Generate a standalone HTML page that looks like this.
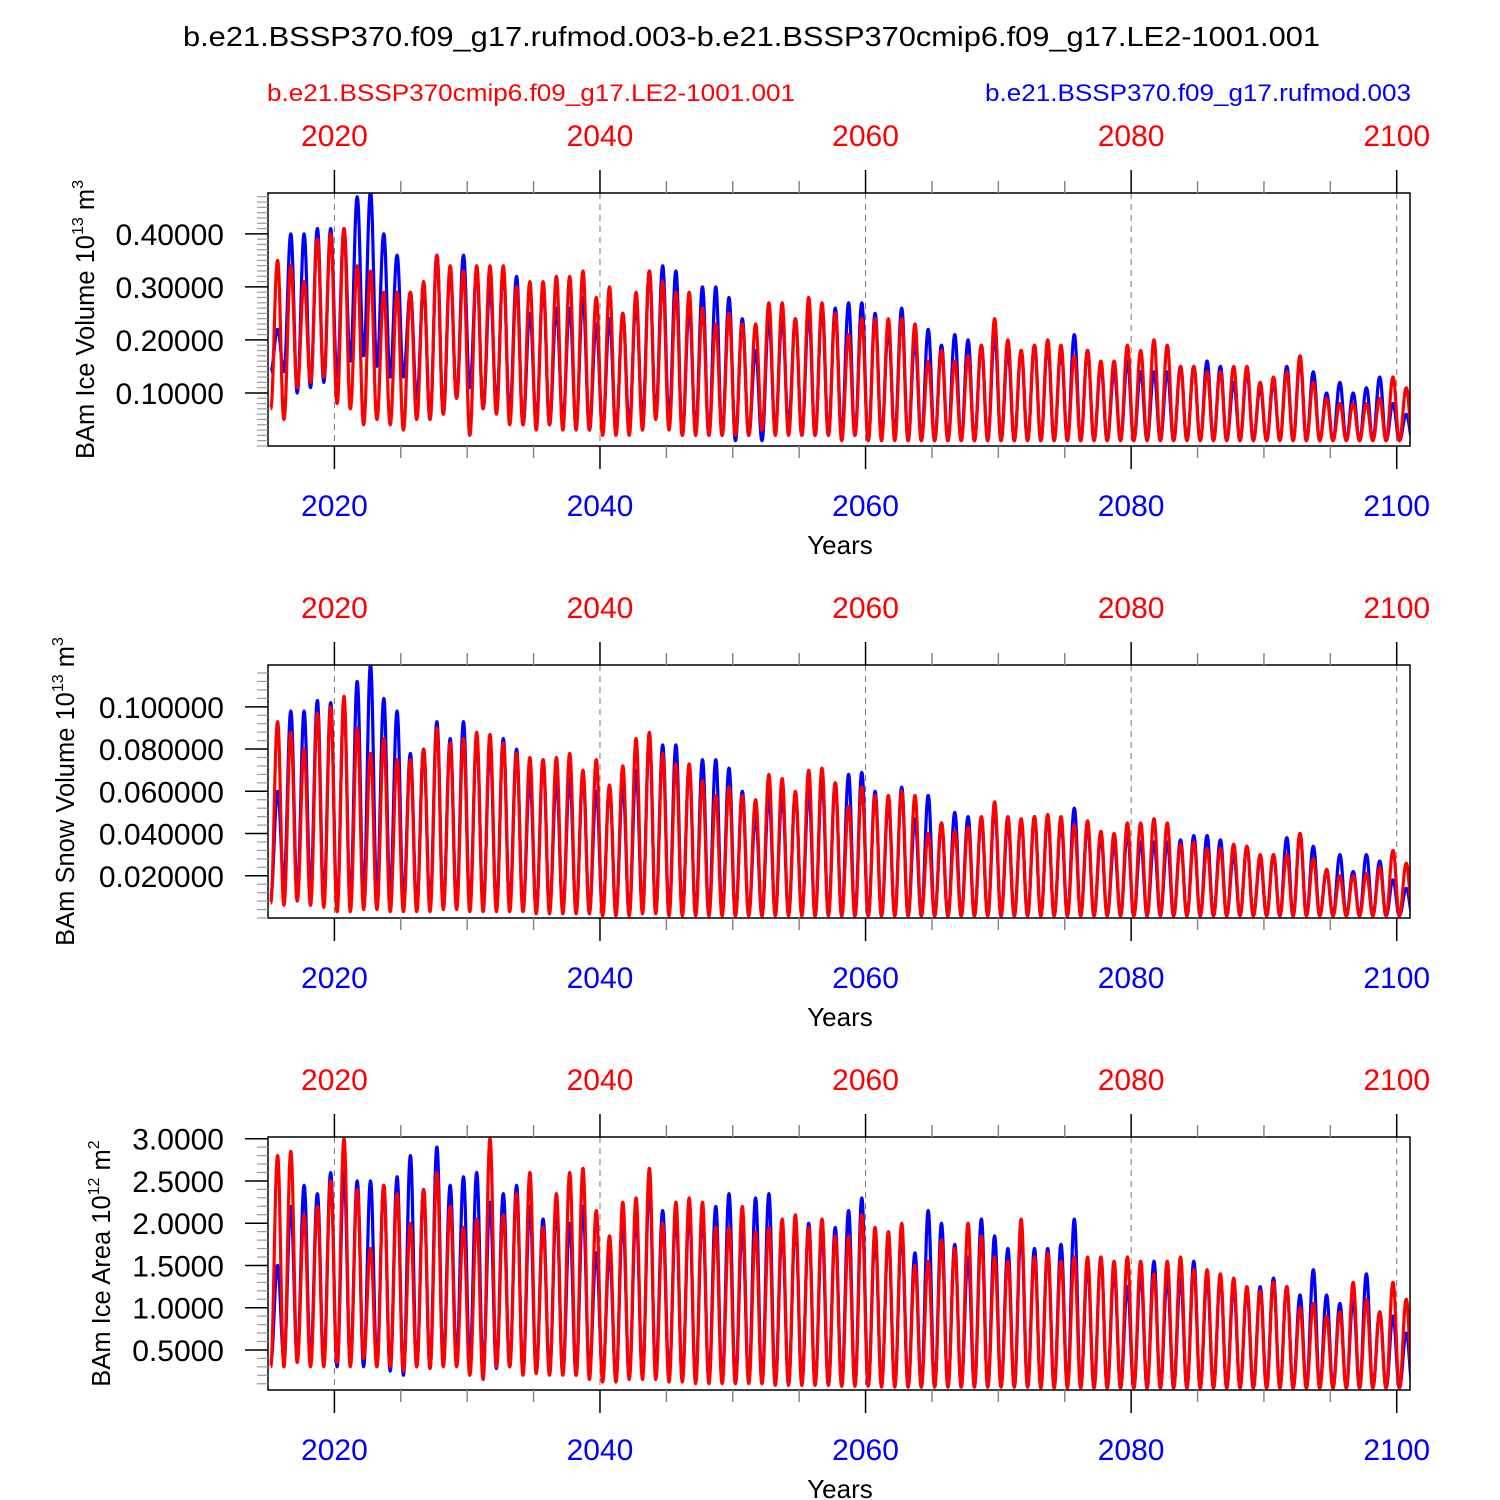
<!DOCTYPE html>
<html><head><meta charset="utf-8"><style>
html,body{margin:0;padding:0;background:#fff;}
svg{display:block;font-family:"Liberation Sans",Arial,sans-serif;}
</style></head><body>
<svg id="chart" width="1500" height="1500" viewBox="0 0 1500 1500" xmlns="http://www.w3.org/2000/svg">
<text x="183" y="46" font-size="28" textLength="1137" lengthAdjust="spacingAndGlyphs">b.e21.BSSP370.f09_g17.rufmod.003-b.e21.BSSP370cmip6.f09_g17.LE2-1001.001</text>
<text x="267" y="101" font-size="24" fill="#ff0000" textLength="528" lengthAdjust="spacingAndGlyphs">b.e21.BSSP370cmip6.f09_g17.LE2-1001.001</text>
<text x="985" y="101" font-size="24" fill="#0000ff" textLength="426" lengthAdjust="spacingAndGlyphs">b.e21.BSSP370.f09_g17.rufmod.003</text>
</svg>
<script>
// ---- data: annual peak (max) and trough (min) values, year 2015..2100 ----
const years = [];
for (let y = 2015; y <= 2100; y++) years.push(y);
const xTickLabels = ["2020","2040","2060","2080","2100"];
const xTickYears = [2020,2040,2060,2080,2100];

const iceBlueMax = [0.22,0.40,0.40,0.41,0.41,0.41,0.47,0.48,0.40,0.36,0.29,0.30,0.36,0.33,0.36,0.33,0.30,0.33,0.32,0.25,0.30,0.26,0.26,0.28,0.23,0.24,0.25,0.27,0.33,0.34,0.33,0.26,0.30,0.30,0.28,0.24,0.18,0.24,0.24,0.24,0.25,0.26,0.26,0.27,0.27,0.25,0.22,0.26,0.20,0.22,0.19,0.21,0.20,0.19,0.21,0.18,0.18,0.19,0.19,0.18,0.21,0.18,0.15,0.14,0.16,0.14,0.14,0.14,0.15,0.15,0.16,0.15,0.12,0.14,0.11,0.12,0.15,0.16,0.14,0.10,0.12,0.10,0.11,0.13,0.08,0.06];
const iceBlueMin = [0.14,0.14,0.10,0.11,0.12,0.13,0.16,0.17,0.15,0.13,0.13,0.09,0.05,0.06,0.09,0.11,0.07,0.08,0.06,0.04,0.05,0.04,0.05,0.04,0.03,0.03,0.03,0.04,0.05,0.06,0.05,0.02,0.03,0.02,0.02,0.01,0.02,0.01,0.03,0.04,0.02,0.02,0.02,0.02,0.02,0.01,0.02,0.02,0.01,0.01,0.01,0.01,0.01,0.01,0.01,0.01,0.01,0.01,0.01,0.01,0.01,0.01,0.01,0.01,0.01,0.01,0.01,0.01,0.01,0.01,0.01,0.01,0.01,0.01,0.01,0.01,0.01,0.01,0.01,0.01,0.01,0.01,0.01,0.01,0.01,0.01];
const iceRedMax = [0.35,0.34,0.31,0.39,0.40,0.41,0.34,0.33,0.29,0.29,0.29,0.31,0.36,0.34,0.33,0.34,0.34,0.34,0.30,0.31,0.31,0.32,0.32,0.33,0.28,0.30,0.25,0.29,0.33,0.31,0.29,0.29,0.26,0.23,0.25,0.23,0.23,0.27,0.27,0.24,0.28,0.27,0.25,0.21,0.24,0.24,0.24,0.24,0.23,0.16,0.18,0.16,0.17,0.19,0.24,0.20,0.18,0.19,0.20,0.19,0.17,0.18,0.16,0.16,0.19,0.18,0.20,0.19,0.15,0.15,0.14,0.14,0.15,0.15,0.12,0.13,0.14,0.17,0.12,0.09,0.08,0.08,0.08,0.09,0.13,0.11];
const iceRedMin = [0.07,0.05,0.11,0.12,0.13,0.08,0.07,0.04,0.05,0.04,0.03,0.05,0.05,0.06,0.09,0.02,0.07,0.06,0.04,0.04,0.03,0.04,0.03,0.03,0.03,0.02,0.02,0.02,0.03,0.05,0.03,0.02,0.02,0.02,0.02,0.02,0.02,0.03,0.02,0.02,0.02,0.02,0.02,0.01,0.02,0.01,0.01,0.01,0.01,0.01,0.01,0.01,0.01,0.01,0.01,0.01,0.01,0.01,0.01,0.01,0.01,0.01,0.01,0.01,0.01,0.01,0.01,0.01,0.01,0.01,0.01,0.01,0.01,0.01,0.01,0.01,0.01,0.01,0.01,0.01,0.01,0.01,0.01,0.01,0.01,0.01];

const snowBlueMax = [0.060,0.098,0.098,0.103,0.102,0.102,0.112,0.120,0.104,0.098,0.078,0.080,0.093,0.085,0.093,0.085,0.080,0.085,0.080,0.066,0.075,0.065,0.066,0.067,0.060,0.062,0.063,0.070,0.085,0.082,0.082,0.072,0.075,0.075,0.071,0.060,0.048,0.058,0.058,0.059,0.060,0.065,0.064,0.068,0.069,0.060,0.055,0.062,0.047,0.058,0.045,0.050,0.048,0.047,0.052,0.045,0.046,0.048,0.048,0.045,0.052,0.044,0.038,0.035,0.040,0.036,0.036,0.036,0.037,0.039,0.039,0.037,0.030,0.034,0.028,0.030,0.038,0.040,0.034,0.022,0.030,0.022,0.030,0.027,0.018,0.014];
const snowBlueMin = [0.010,0.018,0.012,0.014,0.010,0.006,0.008,0.010,0.012,0.012,0.008,0.006,0.006,0.005,0.006,0.006,0.006,0.005,0.006,0.004,0.004,0.004,0.004,0.003,0.003,0.003,0.003,0.002,0.003,0.003,0.003,0.002,0.002,0.002,0.002,0.001,0.002,0.001,0.002,0.002,0.002,0.001,0.002,0.001,0.001,0.001,0.001,0.001,0.001,0.001,0.001,0.001,0.001,0.001,0.001,0.001,0.001,0.001,0.001,0.001,0.001,0.001,0.001,0.001,0.001,0.001,0.001,0.001,0.001,0.001,0.001,0.001,0.001,0.001,0.001,0.001,0.001,0.001,0.001,0.001,0.001,0.001,0.001,0.001,0.001,0.001];
const snowRedMax = [0.093,0.088,0.080,0.097,0.100,0.105,0.090,0.078,0.085,0.075,0.075,0.080,0.090,0.083,0.085,0.088,0.087,0.083,0.078,0.076,0.075,0.076,0.078,0.070,0.075,0.063,0.072,0.085,0.088,0.078,0.073,0.073,0.065,0.058,0.062,0.058,0.056,0.068,0.066,0.060,0.070,0.071,0.064,0.053,0.062,0.058,0.058,0.060,0.058,0.040,0.045,0.041,0.043,0.048,0.055,0.048,0.047,0.048,0.049,0.048,0.044,0.046,0.041,0.040,0.045,0.045,0.047,0.045,0.035,0.036,0.033,0.033,0.035,0.034,0.030,0.030,0.030,0.040,0.028,0.023,0.020,0.020,0.021,0.024,0.032,0.026];
const snowRedMin = [0.007,0.006,0.008,0.006,0.005,0.003,0.003,0.004,0.004,0.003,0.003,0.003,0.003,0.004,0.004,0.003,0.003,0.003,0.003,0.003,0.002,0.002,0.002,0.002,0.002,0.001,0.001,0.001,0.002,0.002,0.001,0.001,0.001,0.001,0.001,0.001,0.001,0.001,0.001,0.001,0.001,0.001,0.001,0.001,0.001,0.001,0.001,0.001,0.001,0.001,0.001,0.001,0.001,0.001,0.001,0.001,0.001,0.001,0.001,0.001,0.001,0.001,0.001,0.001,0.001,0.001,0.001,0.001,0.001,0.001,0.001,0.001,0.001,0.001,0.001,0.001,0.001,0.001,0.001,0.001,0.001,0.001,0.001,0.001,0.001,0.001];

const areaBlueMax = [1.50,2.20,2.45,2.35,2.60,2.60,2.50,2.50,2.45,2.55,2.80,2.40,2.90,2.45,2.55,2.60,2.25,2.35,2.45,2.20,2.05,2.20,2.00,2.20,1.65,1.65,2.05,2.10,2.45,2.15,2.10,2.15,2.10,2.20,2.35,1.95,2.30,2.35,1.90,2.00,2.00,1.90,1.95,2.15,2.30,1.85,1.85,1.90,1.65,2.15,2.00,1.75,1.60,2.05,1.85,1.70,1.90,1.70,1.70,1.75,2.05,1.50,1.60,1.45,1.25,1.40,1.55,1.35,1.35,1.55,1.35,1.35,1.25,1.20,1.25,1.35,1.25,1.15,1.45,1.15,1.05,1.10,1.40,0.95,0.90,0.70];
const areaBlueMin = [0.35,0.40,0.40,0.38,0.35,0.30,0.32,0.30,0.35,0.25,0.20,0.30,0.28,0.35,0.40,0.38,0.30,0.28,0.30,0.25,0.25,0.22,0.22,0.20,0.25,0.20,0.15,0.18,0.20,0.25,0.20,0.15,0.15,0.15,0.12,0.10,0.12,0.10,0.10,0.10,0.10,0.10,0.08,0.08,0.08,0.08,0.08,0.08,0.06,0.06,0.06,0.06,0.06,0.06,0.06,0.06,0.06,0.06,0.06,0.06,0.06,0.06,0.05,0.05,0.05,0.05,0.05,0.05,0.05,0.05,0.05,0.05,0.05,0.05,0.05,0.05,0.05,0.05,0.05,0.05,0.05,0.05,0.05,0.05,0.05,0.05];
const areaRedMax = [2.80,2.85,2.10,2.20,2.50,3.00,2.40,1.70,2.45,2.35,2.00,2.40,2.60,2.20,1.95,2.05,3.00,2.10,2.35,2.60,1.95,2.35,2.60,2.65,2.15,1.85,2.25,2.30,2.65,2.00,2.25,2.30,2.25,1.95,1.95,2.20,1.90,1.95,2.05,2.10,1.95,2.05,1.85,1.85,2.10,1.95,1.90,2.00,1.50,1.55,1.80,1.70,2.00,1.85,1.60,1.55,2.05,1.60,1.65,1.55,1.60,1.60,1.60,1.55,1.60,1.55,1.40,1.55,1.60,1.45,1.45,1.40,1.35,1.25,1.20,1.30,1.25,1.00,1.05,0.90,0.95,1.30,1.10,0.95,1.30,1.10];
const areaRedMin = [0.30,0.30,0.35,0.30,0.30,0.35,0.30,0.40,0.30,0.30,0.25,0.30,0.28,0.30,0.30,0.20,0.15,0.30,0.30,0.20,0.22,0.20,0.20,0.20,0.15,0.12,0.12,0.15,0.15,0.15,0.12,0.12,0.10,0.10,0.10,0.10,0.10,0.10,0.08,0.08,0.08,0.08,0.08,0.07,0.07,0.07,0.06,0.06,0.06,0.06,0.06,0.06,0.06,0.06,0.06,0.06,0.06,0.06,0.05,0.05,0.05,0.05,0.05,0.05,0.05,0.05,0.05,0.05,0.05,0.05,0.05,0.05,0.05,0.05,0.05,0.05,0.05,0.05,0.05,0.05,0.05,0.05,0.05,0.05,0.05,0.05];

const yTicks1 = [0.1,0.2,0.3,0.4]; const yTickLabels1 = ["0.10000","0.20000","0.30000","0.40000"];
const yTicks2 = [0.02,0.04,0.06,0.08,0.1]; const yTickLabels2 = ["0.020000","0.040000","0.060000","0.080000","0.100000"];
const yTicks3 = [0.5,1,1.5,2,2.5,3]; const yTickLabels3 = ["0.5000","1.0000","1.5000","2.0000","2.5000","3.0000"];

const NS = "http://www.w3.org/2000/svg";
const svg = document.getElementById("chart");
function mk(tag, attrs, parent){ const e=document.createElementNS(NS,tag); for(const k in attrs) e.setAttribute(k,attrs[k]); (parent||svg).appendChild(e); return e; }

const X0=268, X1=1410, XMIN=2015.0, XMAX=2101.0;
function xScale(v){ return X0 + (v-XMIN)/(XMAX-XMIN)*(X1-X0); }

const panels = [
 {name:"ice-volume", top:193, ymin:0, ymax:0.477, ticks:yTicks1, labels:yTickLabels1, minor:0.01,
  title:"BAm Ice Volume 10", unit:"m", sup2:"3", series:[["blue",iceBlueMax,iceBlueMin],["red",iceRedMax,iceRedMin]], ylx:94},
 {name:"snow-volume", top:665, ymin:0, ymax:0.1198, ticks:yTicks2, labels:yTickLabels2, minor:0.004,
  title:"BAm Snow Volume 10", unit:"m", sup2:"3", series:[["blue",snowBlueMax,snowBlueMin],["red",snowRedMax,snowRedMin]], ylx:74},
 {name:"ice-area", top:1137, ymin:0.026, ymax:3.02, ticks:yTicks3, labels:yTickLabels3, minor:0.1,
  title:"BAm Ice Area 10", unit:"m", sup1:"12", sup2:"2", series:[["blue",areaBlueMax,areaBlueMin],["red",areaRedMax,areaRedMin]], ylx:110}
];

panels.forEach((p,pi)=>{
  const H=253, top=p.top, bot=top+H;
  const yScale = v => bot - (v-p.ymin)/(p.ymax-p.ymin)*H;
  const g = mk("g",{});
  
  
  const cid="clip"+pi;
  const cp=mk("clipPath",{id:cid},g); mk("rect",{x:X0,y:top,width:X1-X0,height:H},cp);
  xTickYears.forEach(yr=>{
    const gl=mk("line",{x1:xScale(yr),x2:xScale(yr),y1:top,y2:bot,stroke:"#777","stroke-width":1,"stroke-dasharray":"6,5"},g);
    
    
  });
  p.series.forEach(([col,mx,mn])=>{
    const pts=[];
    for(let i=0;i<years.length;i++){
      if(i<mn.length) pts.push([xScale(years[i]+0.2), yScale(mn[i])]);
      if(i<mx.length) pts.push([xScale(years[i]+0.72), yScale(mx[i])]);
    }
    pts.push([xScale(2101.2), yScale(mn[mn.length-1])]);
    let d="M"+pts[0][0].toFixed(1)+","+pts[0][1].toFixed(1);
    for(let i=1;i<pts.length;i++){
      const a=pts[i-1], b=pts[i], dx=(b[0]-a[0])*0.4;
      d+=` C${(a[0]+dx).toFixed(1)},${a[1].toFixed(1)} ${(b[0]-dx).toFixed(1)},${b[1].toFixed(1)} ${b[0].toFixed(1)},${b[1].toFixed(1)}`;
    }
    const path=mk("path",{d:d,fill:"none",stroke:col==="blue"?"#0000ff":"#ff0000","stroke-width":3.2,"clip-path":`url(#${cid})`,"stroke-linejoin":"round"},g);
    
    
  });
  const fr=mk("rect",{x:X0,y:top,width:X1-X0,height:H,fill:"none",stroke:"#000","stroke-width":1.5},g);
  
  
  for(let yr=2020; yr<=2100; yr+=5){
    const major = yr%20===0, len = major?23:12, c = major?"#000":"#888";
    mk("line",{x1:xScale(yr),x2:xScale(yr),y1:top,y2:top-len,stroke:c,"stroke-width":1.5},g);
    mk("line",{x1:xScale(yr),x2:xScale(yr),y1:bot,y2:bot+len,stroke:c,"stroke-width":1.5},g);
  }
  xTickYears.forEach((yr,i)=>{
    const t1=mk("text",{x:xScale(yr),y:top-47,"font-size":30,fill:"#ff0000","text-anchor":"middle"},g);
    t1.textContent=xTickLabels[i];
    
    
    const t2=mk("text",{x:xScale(yr),y:bot+70,"font-size":30,fill:"#0000ff","text-anchor":"middle"},g);
    t2.textContent=xTickLabels[i];
    
    
  });
  const xt=mk("text",{x:840,y:bot+108,"font-size":26,"text-anchor":"middle"},g);
  xt.textContent="Years";
  
  
  for(let v=Math.ceil(p.ymin/p.minor)*p.minor; v<=p.ymax+1e-9; v+=p.minor){
    mk("line",{x1:X0,x2:X0-11,y1:yScale(v),y2:yScale(v),stroke:"#999","stroke-width":1.2},g);
  }
  p.ticks.forEach((v,i)=>{
    mk("line",{x1:X0,x2:X0-23,y1:yScale(v),y2:yScale(v),stroke:"#000","stroke-width":1.5},g);
    const t=mk("text",{x:X0-44,y:yScale(v)+11,"font-size":30,"text-anchor":"end"},g);
    t.textContent=p.labels[i];
    
    
  });
  const yt=mk("text",{x:0,y:0,"font-size":25.5,"text-anchor":"middle",transform:`translate(${p.ylx},${top+H/2}) rotate(-90)`},g);
  
  
  const s0=document.createElementNS(NS,"tspan"); s0.textContent=p.title; yt.appendChild(s0);
  const s1=document.createElementNS(NS,"tspan"); s1.setAttribute("dy","-11"); s1.setAttribute("font-size","16"); s1.textContent=p.sup1||"13"; yt.appendChild(s1);
  const s2=document.createElementNS(NS,"tspan"); s2.setAttribute("dy","11"); s2.textContent=" "+p.unit; yt.appendChild(s2);
  const s3=document.createElementNS(NS,"tspan"); s3.setAttribute("dy","-11"); s3.setAttribute("font-size","16"); s3.textContent=p.sup2; yt.appendChild(s3);
});
</script>
</body></html>
